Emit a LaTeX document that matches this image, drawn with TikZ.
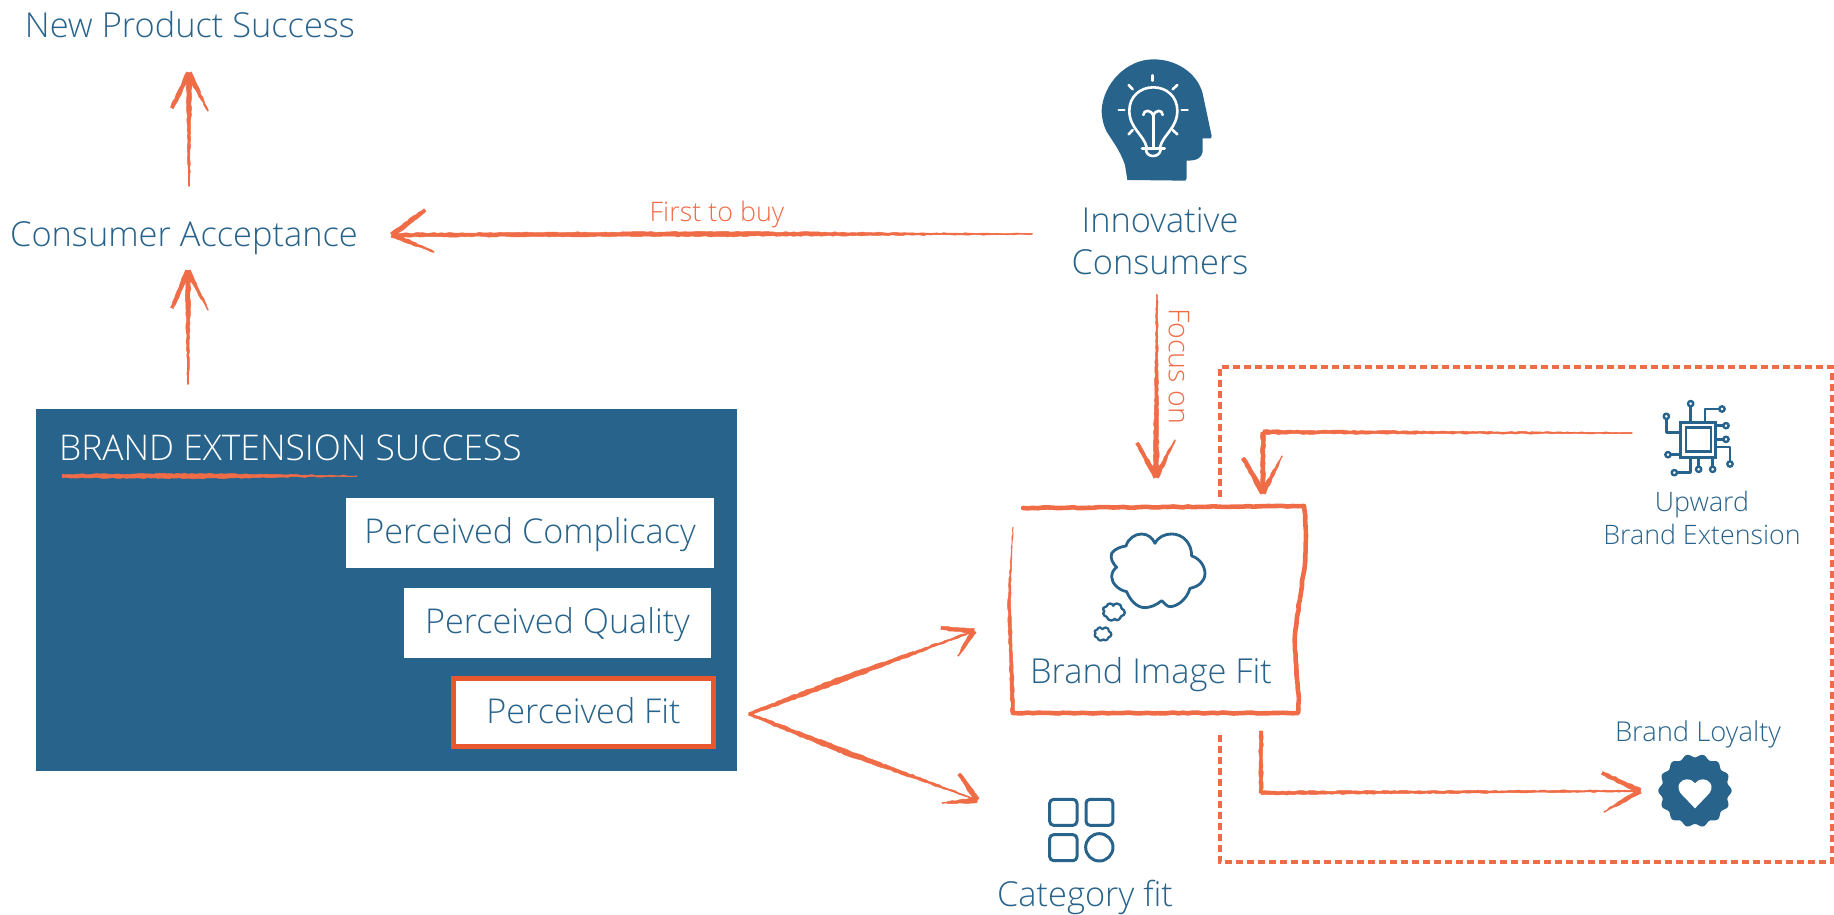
\documentclass[tikz,border=0pt]{standalone}
\usepackage{fontspec}
\setmainfont{Open Sans}[UprightFont=* Light]
\usetikzlibrary{calc,decorations.pathmorphing}
\definecolor{bluec}{HTML}{28638B}
\definecolor{orangec}{HTML}{EF6C47}
\definecolor{fitc}{HTML}{E9572F}
\newcommand{\fs}[1]{\fontsize{#1}{#1}\selectfont}
\tikzset{
  txt/.style={inner sep=0pt,text=bluec,align=center,font=\fs{34.4}},
  lbl/.style={inner sep=0pt,text=orangec,font=\fs{26.9}},
  conn/.style={draw=orangec,line width=1.2pt,line cap=round,line join=round},
  brushf/.style={fill=orangec,draw=orangec,line width=.5pt,line join=round,decorate,decoration={random steps,segment length=3.5pt,amplitude=.55pt}},
  roughline/.style={draw=orangec,line width=4.6pt,line join=round,line cap=round,decorate,decoration={random steps,segment length=5pt,amplitude=.5pt}},
  whitebox/.style={fill=white,minimum height=70pt,inner sep=0pt,text=bluec,font=\fs{34.2},text height=27pt,text depth=7pt},
  iconline/.style={draw=bluec,line width=2.4pt,line cap=round,line join=round},
  bulb/.style={draw=white,line width=2.6pt,line cap=round,line join=round},
  dashbox/.style={draw=orangec,line width=4pt,dash pattern=on 7pt off 4pt}
}
% tapered stroke between two named coordinates
\newcommand{\brush}[4]{\path[brushf] ($(#1)!#3!90:(#2)$) -- ($(#2)!#4!-90:(#1)$) -- ($(#2)!#4!90:(#1)$) -- ($(#1)!#3!-90:(#2)$) -- cycle;}
% open arrow head with two tapered barbs
\newcommand{\headat}[3]{%
  \coordinate (hA) at ($(#1)+(#2)$);\coordinate (hB) at ($(#1)+(#3)$);
  \brush{#1}{hA}{2.6pt}{1.6pt}\brush{#1}{hB}{2.6pt}{.5pt}}
\newcommand{\cloudpath}{(525,160) .. controls (535,140) and (555,132) .. (575,132) .. controls (610,132) and (635,160) .. (635,198) .. controls (660,205) and (675,230) .. (675,250) .. controls (675,275) and (655,290) .. (630,295) .. controls (620,330) and (590,350) .. (570,350) .. controls (560,350) and (555,340) .. (545,332) .. controls (530,345) and (510,353) .. (495,353) .. controls (470,353) and (450,330) .. (440,305) .. controls (415,300) and (395,280) .. (395,260) .. controls (395,245) and (405,235) .. (410,232) .. controls (398,220) and (390,205) .. (395,190) .. controls (405,175) and (425,170) .. (438,168) .. controls (445,145) and (465,132) .. (485,132) .. controls (505,132) and (518,145) .. (525,160) -- cycle}
\begin{document}
\begin{tikzpicture}[x=1pt,y=-1pt]
\pgfmathsetseed{11}
\useasboundingbox (0,0) rectangle (1834,915);
% ---------- dashed container
\draw[dashbox] (1220,497) -- (1220,367) -- (1832,367) -- (1832,862) -- (1220,862) -- (1220,735);
% ---------- text nodes
\node[txt] (nps) at (190,25) {New Product Success};
\node[txt] (acc) at (184,238) {Consumer Acceptance};
\node[txt] (inno) at (1160,241) {Innovative\\[8pt]Consumers};
\node[txt] (bif) at (1151,675) {Brand Image Fit};
\node[txt] (cat) at (1085,897) {Category fit};
\node[txt,font=\fs{26.8}] (up) at (1702,518) {Upward\\[6pt]Brand Extension};
\node[txt,font=\fs{27.4}] (loy) at (1698,734) {Brand Loyalty};
% ---------- blue panel
\node[fill=bluec,minimum width=701pt,minimum height=362pt,inner sep=0pt] (panel) at (386.5,590) {};
\node[txt,text=white,anchor=west,font=\fs{35.4}] (title) at (59,448) {BRAND EXTENSION SUCCESS};
\node[whitebox,minimum width=368pt] (pc) at (530,533) {Perceived Complicacy};
\node[whitebox,minimum width=307pt] (pq) at (557.5,623) {Perceived Quality};
\node[whitebox,draw=fitc,line width=5pt,minimum width=260pt,minimum height=68pt,text height=28pt,text depth=6pt] (pf) at (583.5,712.5) {Perceived Fit};
% ---------- orange labels
\node[lbl] (first) at (717,215) {First to buy};
\node[lbl,rotate=-90,font=\fs{28.6}] (focus) at (1179,366) {Focus on};
% ---------- head icon
\begin{scope}[shift={(1040,40)},x=.3333pt,y=-.3333pt]
\fill[bluec] (262,420) -- (255,375) .. controls (240,330) and (215,300) .. (200,275) .. controls (190,255) and (185,235) .. (185,210) .. controls (190,130) and (260,58) .. (340,58) .. controls (420,58) and (480,110) .. (490,170) -- (515,288) -- (513,295) -- (488,295) -- (488,335) .. controls (485,355) and (470,362) .. (440,362) -- (440,415) -- (436,422) -- cycle;
\draw[bulb] (320,322) .. controls (312,285) and (268,265) .. (268,212) .. controls (268,170) and (300,142) .. (340,142) .. controls (380,142) and (412,170) .. (412,212) .. controls (412,265) and (368,285) .. (360,322);
\draw[bulb] (306,326) -- (374,326);
\draw[bulb] (318,330) .. controls (320,354) and (358,354) .. (362,330);
\draw[bulb] (340,322) -- (340,225);
\draw[bulb] (310,225) .. controls (310,208) and (335,208) .. (340,228) .. controls (345,208) and (368,208) .. (368,225);
\draw[bulb] (338,106) -- (338,122);
\draw[bulb] (266,135) -- (278,148);
\draw[bulb] (412,135) -- (398,148);
\draw[bulb] (236,210) -- (253,210);
\draw[bulb] (425,210) -- (443,210);
\draw[bulb] (266,283) -- (278,270);
\draw[bulb] (412,283) -- (398,270);
\end{scope}
% ---------- cloud icon
\begin{scope}[shift={(980,490)},x=.3333pt,y=-.3333pt]
\draw[iconline,line width=2.8pt] \cloudpath;
\end{scope}
\begin{scope}[shift={(1114,612)},x=.077pt,y=-.077pt]
\draw[iconline,line width=2.4pt,shift={(-535,-242)}] \cloudpath;
\end{scope}
\begin{scope}[shift={(1103,634)},x=.06pt,y=-.06pt]
\draw[iconline,line width=2.2pt,shift={(-535,-242)}] \cloudpath;
\end{scope}
% ---------- chip icon
\begin{scope}[shift={(1600,380)},x=.3333pt,y=-.3333pt]
\draw[iconline,line width=2.6pt,line cap=butt,line join=miter] (242,128) rectangle (347,232);
\draw[iconline,line width=2.6pt,line cap=butt,line join=miter] (258,143) rectangle (333,215);
\draw[iconline] (272,128) -- (272,80);
\draw[iconline] (272,71) circle[radius=8];
\draw[iconline] (315,128) -- (315,87) -- (358,87);
\draw[iconline] (366,87) circle[radius=8];
\draw[iconline] (347,137) -- (370,137);
\draw[iconline] (378,137) circle[radius=8];
\draw[iconline] (347,178) -- (370,178);
\draw[iconline] (378,178) circle[radius=8];
\draw[iconline] (347,201) -- (390,201) -- (390,244);
\draw[iconline] (390,252) circle[radius=8];
\draw[iconline] (337,232) -- (337,260);
\draw[iconline] (338,268) circle[radius=8];
\draw[iconline] (295,232) -- (295,260);
\draw[iconline] (296,268) circle[radius=8];
\draw[iconline] (272,232) -- (272,278) -- (232,278);
\draw[iconline] (223,278) circle[radius=8];
\draw[iconline] (242,224) -- (212,224);
\draw[iconline] (204,224) circle[radius=8];
\draw[iconline] (242,158) -- (199,158) -- (199,118);
\draw[iconline] (199,109) circle[radius=8];
\end{scope}
% ---------- badge icon
\begin{scope}[shift={(1580,700)},x=.3333pt,y=-.3333pt]
\fill[bluec] plot[domain=0:360,samples=281] ({345+(105+5*cos(14*\x))*cos(\x)},{272+(105+5*cos(14*\x))*sin(\x)}) -- cycle;
\fill[white] (345,325) -- (302,280) .. controls (285,255) and (305,238) .. (320,238) .. controls (332,238) and (340,243) .. (345,250) .. controls (350,243) and (358,238) .. (370,238) .. controls (385,238) and (405,255) .. (388,280) -- cycle;
\end{scope}
% ---------- category icon
\begin{scope}[shift={(980,770)},x=.3333pt,y=-.3333pt]
\draw[iconline,line width=3pt,rounded corners=4pt] (209,88) rectangle (291,166);
\draw[iconline,line width=3pt,rounded corners=4pt] (318,88) rectangle (399,166);
\draw[iconline,line width=3pt,rounded corners=4pt] (209,194) rectangle (291,272);
\draw[iconline,line width=3pt] (358,232) circle[radius=41];
\end{scope}
% ---------- connector end points
\coordinate (t1) at (189,73);   \coordinate (s1) at (189,186);
\coordinate (t2) at (188,271);  \coordinate (s2) at (188,384);
\coordinate (t3) at (392,235);  \coordinate (s3) at (1032,234);
\coordinate (t4) at (1156,477); \coordinate (s4) at (1157,295);
\coordinate (t5) at (1263,493); \coordinate (c5) at (1263,432); \coordinate (s5) at (1632,433);
\coordinate (s6) at (1261,731); \coordinate (c6) at (1261,793); \coordinate (t6) at (1640,791);
\coordinate (sf) at (749,714);  \coordinate (mf) at (840,680);  \coordinate (t7) at (974,631);
\coordinate (mg) at (840,750);  \coordinate (t8) at (977,800);
\coordinate (u1) at (62,476);   \coordinate (u2) at (357,476);  \coordinate (um) at (200,476);
% ---------- connectors
\draw[conn] (s1) -- (t1); \brush{s1}{t1}{.6pt}{2.8pt}\headat{t1}{-17,35}{19,38}
\draw[conn] (s2) -- (t2); \brush{s2}{t2}{.6pt}{2.8pt}\headat{t2}{-16,37}{20,39}
\coordinate (m3) at (720,234);
\draw[conn] (s3) -- (m3) -- (t3); \brush{s3}{m3}{.4pt}{2.4pt}\brush{m3}{t3}{2.4pt}{1.8pt}\headat{t3}{33,-25}{42,17}
\draw[conn] (s4) -- (t4); \brush{s4}{t4}{.5pt}{2.8pt}\headat{t4}{-19,-34}{19,-37}
\draw[conn] (s5) -- (c5) -- (t5); \brush{s5}{c5}{.4pt}{2pt}\brush{c5}{t5}{2pt}{2.4pt}\headat{t5}{-20,-35}{19,-37}
\draw[conn] (s6) -- (c6) -- (t6); \brush{s6}{c6}{1.8pt}{1.8pt}\brush{c6}{t6}{1.8pt}{.7pt}\headat{t6}{-38,-18}{-36,21}
\draw[conn] (sf) -- (mf) -- (t7); \brush{sf}{mf}{1.4pt}{2.7pt}\brush{mf}{t7}{2.7pt}{.5pt}\headat{t7}{-33,-3}{-16,25}
\draw[conn] (sf) -- (mg) -- (t8); \brush{sf}{mg}{1.4pt}{2.7pt}\brush{mg}{t8}{2.7pt}{.5pt}\headat{t8}{-18,-26}{-35,3}
% underline
\brush{u1}{um}{1.6pt}{2.4pt}\brush{um}{u2}{2.4pt}{.3pt}
% ---------- sketched brand image box
\coordinate (b1) at (1023,508); \coordinate (b2) at (1304,506);
\coordinate (b5) at (1298,713); \coordinate (b6) at (1013,713);
\coordinate (b7) at (1009,600); \coordinate (b8) at (1013,527);
\draw[roughline] (b1) -- (b2) .. controls (1312,560) and (1294,610) .. (1295,650) .. controls (1296,670) and (1300,700) .. (b5) -- (b6);
\brush{b6}{b7}{2pt}{1.2pt}\brush{b7}{b8}{1.2pt}{.2pt}
\end{tikzpicture}
\end{document}
